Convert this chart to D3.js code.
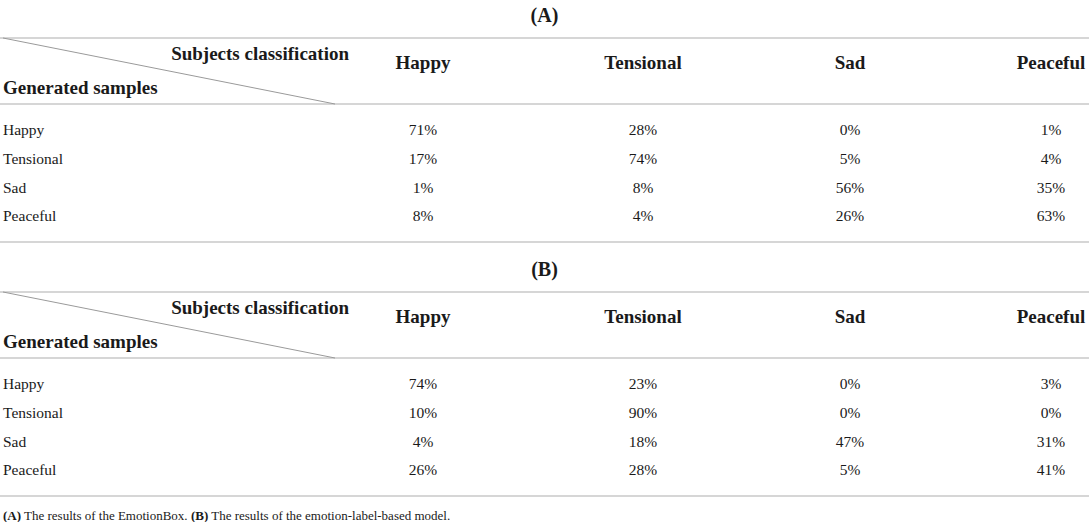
<!DOCTYPE html>
<html>
<head>
<meta charset="utf-8">
<script src="https://cdn.jsdelivr.net/npm/d3@7"></script>
<style>
  body { margin: 0; background: #fff; }
  svg text { font-family: "Liberation Serif", "DejaVu Serif", serif; fill: #1a1a1a; }
  .bold { font-weight: bold; }
</style>
</head>
<body>
<svg id="chart" width="1089" height="522"></svg>
<script>
////////////////////////// DATA //////////////////////////

const columns = ['Happy', 'Tensional', 'Sad', 'Peaceful']
const rowLabels = ['Happy', 'Tensional', 'Sad', 'Peaceful']

// percentages, rows = generated samples, cols = subjects classification
const valuesA = [
  [71, 28, 0, 1],
  [17, 74, 5, 4],
  [1, 8, 56, 35],
  [8, 4, 26, 63]
]
const valuesB = [
  [74, 23, 0, 3],
  [10, 90, 0, 0],
  [4, 18, 47, 31],
  [26, 28, 5, 41]
]

const panels = [
  { title: '(A)', values: valuesA },
  { title: '(B)', values: valuesB }
]

////////////////////////// SETUP //////////////////////////

const width = 1089
const svg = d3.select('#chart')

const ruleColor = '#c8c8c8'
const panelOffset = 254

// column centers
const xCol = d3.scaleOrdinal()
  .domain(columns)
  .range([423, 643, 850, 1051])

// row centers, relative to panel top rule
const yRow = d3.scalePoint()
  .domain(rowLabels)
  .range([92, 178])

////////////////////////// DRAW PANELS //////////////////////////

const drawPanel = (panel, i) => {
  const top = 38 + i * panelOffset
  const g = svg.append('g').attr('transform', `translate(0,${top})`)

  // panel title
  g.append('text')
    .attr('class', 'bold')
    .attr('x', width / 2)
    .attr('y', -23)
    .attr('dy', '0.35em')
    .attr('text-anchor', 'middle')
    .style('font-size', '20px')
    .text(panel.title)

  // rules
  const rules = [0, 66, 204]
  g.selectAll('.rule')
    .data(rules)
    .enter()
    .append('line')
    .attr('class', 'rule')
    .attr('x1', 0)
    .attr('x2', width)
    .attr('y1', (d) => d)
    .attr('y2', (d) => d)
    .style('stroke', ruleColor)
    .style('stroke-width', 1.5)

  // diagonal header cell
  g.append('line')
    .attr('x1', 3).attr('y1', 0)
    .attr('x2', 335).attr('y2', 66)
    .style('stroke', '#9a9a9a')
    .style('stroke-width', 1)

  g.append('text')
    .attr('class', 'bold')
    .attr('x', 349)
    .attr('y', 15)
    .attr('dy', '0.35em')
    .attr('text-anchor', 'end')
    .style('font-size', '19px')
    .text('Subjects classification')

  g.append('text')
    .attr('class', 'bold')
    .attr('x', 3)
    .attr('y', 49)
    .attr('dy', '0.35em')
    .style('font-size', '19px')
    .text('Generated samples')

  // column headers
  g.selectAll('.col-head')
    .data(columns)
    .enter()
    .append('text')
    .attr('class', 'col-head bold')
    .attr('x', (d) => xCol(d))
    .attr('y', 24)
    .attr('dy', '0.35em')
    .attr('text-anchor', 'middle')
    .style('font-size', '19px')
    .text((d) => d)

  // row labels
  g.selectAll('.row-label')
    .data(rowLabels)
    .enter()
    .append('text')
    .attr('class', 'row-label')
    .attr('x', 3)
    .attr('y', (d) => yRow(d))
    .attr('dy', '0.35em')
    .style('font-size', '15.5px')
    .text((d) => d)

  // cells
  const cells = panel.values.flatMap((row, r) =>
    row.map((v, c) => ({ row: rowLabels[r], col: columns[c], value: v })))

  g.selectAll('.cell')
    .data(cells)
    .enter()
    .append('text')
    .attr('class', 'cell')
    .attr('x', (d) => xCol(d.col))
    .attr('y', (d) => yRow(d.row))
    .attr('dy', '0.35em')
    .attr('text-anchor', 'middle')
    .style('font-size', '15.5px')
    .text((d) => `${d.value}%`)
}

panels.forEach(drawPanel)

////////////////////////// FOOTNOTE //////////////////////////

const note = svg.append('text')
  .attr('x', 3)
  .attr('y', 515)
  .attr('dy', '0.35em')
  .style('font-size', '13px')

note.append('tspan').attr('class', 'bold').text('(A)')
note.append('tspan').text(' The results of the EmotionBox. ')
note.append('tspan').attr('class', 'bold').text('(B)')
note.append('tspan').text(' The results of the emotion-label-based model.')
</script>
</body>
</html>
